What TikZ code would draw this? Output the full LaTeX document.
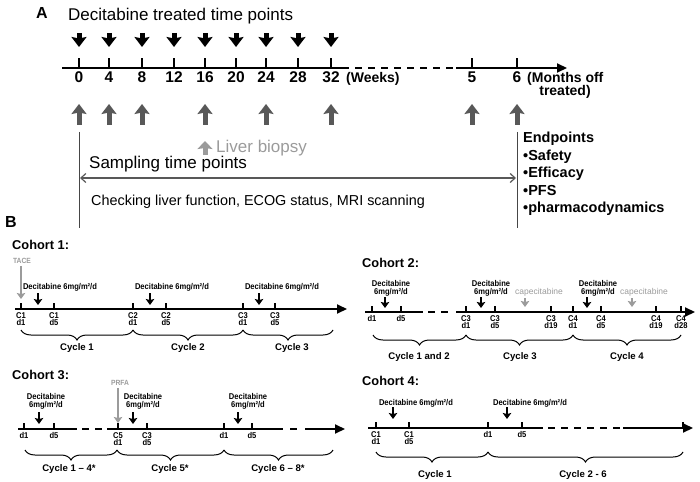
\documentclass[tikz,border=0pt]{standalone}
\usepackage{fontspec}
\setmainfont{Liberation Sans}
\newfontfamily\narrowfont[FakeStretch=0.9]{Liberation Sans}
\usepackage{xcolor}
\usetikzlibrary{arrows.meta}
\usetikzlibrary{decorations.pathreplacing, math}
\definecolor{qdark}{RGB}{88,88,88}
\definecolor{qlight}{RGB}{155,155,155}
\definecolor{qline}{RGB}{70,70,70}

\tikzset{
  bigdown/.style={line width=5pt, -{Stealth[width=15pt,length=10pt,inset=1.5pt]}},
  bigup/.style={bigdown, color=qdark},
  smalldown/.style={line width=2.5pt, -{Stealth[width=8.5pt,length=6pt,inset=1pt]}},
  timeline/.style={line width=2pt},
  tlarrow/.style={line width=2pt, -{Triangle[width=9pt,length=10pt]}},
  gapline/.style={line width=2pt, dash pattern=on 7pt off 6pt},
  tickmark/.style={line width=1.5pt},
  cyclebrace/.style={decorate, decoration={brace, mirror, amplitude=10pt}, line width=1pt},
  weeknum/.style={font=\bfseries\fontsize{15.5}{16}\selectfont, inner sep=0pt, anchor=base},
  daylabel/.style={font=\narrowfont\bfseries\fontsize{8.4}{7}\selectfont, align=center, anchor=north, inner sep=0pt},
  druglabel/.style={font=\narrowfont\bfseries\fontsize{8.4}{8.2}\selectfont, align=center, inner sep=0pt},
  caplabel/.style={font=\fontsize{8.5}{9}\selectfont, text=qlight, inner sep=0pt},
  cyclelabel/.style={font=\bfseries\fontsize{9.6}{10}\selectfont, inner sep=0pt},
  cohortlabel/.style={font=\bfseries\fontsize{12.8}{14}\selectfont, anchor=west, inner sep=0pt},
}

\begin{document}
\begin{tikzpicture}[x=1pt, y=-1pt]
\useasboundingbox (0,0) rectangle (700,481);

% panel A
\node[font=\bfseries\fontsize{16}{16}\selectfont, inner sep=0pt] (A) at (42,13) {A};
\node[font=\fontsize{17}{20}\selectfont, anchor=base west, inner sep=0pt] (title) at (68,21) {Decitabine treated time points};

\coordinate (a0) at (62,68);
\coordinate (a1) at (342,68);
\coordinate (a2) at (456,68);
\coordinate (a3) at (567,68);
\draw[timeline] (a0) -- (a1);
\draw[gapline] (a1) -- (a2);
\draw[tlarrow] (a2) -- (a3);

\foreach \x/\w in {79/0,109/4,142/8,174/12,205/16,236/20,266/24,298/28,331/32} {
  \coordinate (wk\w) at (\x,68);
  \draw[tickmark] (wk\w) -- ++(0,-10);
  \node[weeknum] (wn\w) at (\x,83) {\w};
  \coordinate (dt\w) at (\x,33);
  \coordinate (dh\w) at (\x,47);
  \draw[bigdown] (dt\w) -- (dh\w);
}
\foreach \x/\m in {472/5,517/6} {
  \coordinate (mo\m) at (\x,68);
  \draw[tickmark] (mo\m) -- ++(0,-10);
  \node[weeknum] (mn\m) at (\x,83) {\m};
}
\node[font=\bfseries\fontsize{14}{14}\selectfont, anchor=base west, inner sep=0pt] (weeks) at (346,83) {(Weeks)};
\node[font=\bfseries\fontsize{14}{14}\selectfont, anchor=base west, inner sep=0pt] (months) at (527,83) {(Months off};
\node[font=\bfseries\fontsize{14}{14}\selectfont, anchor=base, inner sep=0pt] (treated) at (565,96) {treated)};

% sampling
\foreach \x/\w in {79/0,109/4,142/8,205/16,266/24,331/32,472/m5,517/m6} {
  \coordinate (sb\w) at (\x,125);
  \coordinate (st\w) at (\x,104);
  \draw[bigup] (sb\w) -- (st\w);
}
\coordinate (lbb) at (205,155);
\coordinate (lbt) at (205,141);
\draw[qlight, line width=5pt, -{Stealth[width=15pt,length=8pt,inset=1pt]}] (lbb) -- (lbt);
\node[font=\fontsize{17}{20}\selectfont, text=qlight, anchor=base west, inner sep=0pt] (biopsy) at (216,153) {Liver biopsy};

\coordinate (v0t) at (79,132);
\coordinate (v0b) at (79,228);
\coordinate (v1t) at (517,132);
\coordinate (v1b) at (517,228);
\draw[qline, line width=1pt] (v0t) -- (v0b);
\draw[qline, line width=1pt] (v1t) -- (v1b);

\coordinate (sl) at (80,178);
\coordinate (sr) at (516,178);
\draw[qdark, line width=1.2pt, {Straight Barb[length=5pt,width=9pt]}-{Straight Barb[length=5pt,width=9pt]}] (sl) -- (sr);
\node[font=\fontsize{17}{20}\selectfont, anchor=base west, inner sep=0pt] (sampling) at (89,168) {Sampling time points};
\node[font=\fontsize{14.4}{16}\selectfont, anchor=base west, inner sep=0pt] (checking) at (91,205) {Checking liver function, ECOG status, MRI scanning};

\node[font=\bfseries\fontsize{14.5}{17.5}\selectfont, align=left, anchor=north west, inner sep=0pt] (endpoints) at (523,132)
  {Endpoints\\\textbullet Safety\\\textbullet Efficacy\\\textbullet PFS\\\textbullet pharmacodynamics};

% panel B
\node[font=\bfseries\fontsize{16}{16}\selectfont, inner sep=0pt] (B) at (11,222) {B};

% cohort 1
\node[cohortlabel] (co1) at (12,245) {Cohort 1:};
\node[font=\narrowfont\bfseries\fontsize{7.5}{8}\selectfont, text=qlight, inner sep=0pt] (tace) at (22,261) {TACE};
\coordinate (tacet) at (21,266);
\coordinate (taceh) at (21,299);
\draw[qlight, smalldown] (tacet) -- (taceh);
\coordinate (c1s) at (15,309);
\coordinate (c1e) at (347,309);
\draw[tlarrow] (c1s) -- (c1e);
\foreach \x/\lab [count=\i] in {21/C1\\d1, 54/C1\\d5, 133/C2\\d1, 166/C2\\d5, 243/C3\\d1, 275/C3\\d5} {
  \coordinate (c1t\i) at (\x,309);
  \draw[tickmark] (c1t\i) -- ++(0,-6);
  \node[daylabel] (c1d\i) at (\x,312) {\lab};
}
\foreach \x/\ax [count=\i] in {60/38, 172/150, 282/259} {
  \node[druglabel] (c1g\i) at (\x,287) {Decitabine 6mg/m²/d};
  \coordinate (c1a\i) at (\ax,293);
  \coordinate (c1b\i) at (\ax,305);
  \draw[smalldown] (c1a\i) -- (c1b\i);
}
\foreach \xa/\xb/\xc/\lab [count=\i] in {21/133/77/Cycle 1, 133/243/188/Cycle 2, 243/333/292/Cycle 3} {
  \coordinate (c1l\i) at (\xa,330);
  \coordinate (c1r\i) at (\xb,330);
  \draw[cyclebrace] (c1l\i) -- (c1r\i);
  \node[cyclelabel] (c1c\i) at (\xc,348) {\lab};
}

% cohort 2
\node[cohortlabel] (co2) at (362,263) {Cohort 2:};
\coordinate (c2s) at (365,312);
\coordinate (c2m) at (423,312);
\coordinate (c2n) at (428,312);
\coordinate (c2o) at (452,312);
\coordinate (c2p) at (456,312);
\coordinate (c2e) at (695,312);
\draw[timeline] (c2s) -- (c2m);
\draw[gapline] (c2n) -- (c2o);
\draw[tlarrow] (c2p) -- (c2e);
\foreach \x/\lab [count=\i] in {372/d1, 401/d5, 466/C3\\d1, 495/C3\\d5, 551/C3\\d19, 573/C4\\d1, 601/C4\\d5, 656/C4\\d19, 681/C4\\d28} {
  \coordinate (c2t\i) at (\x,312);
  \draw[tickmark] (c2t\i) -- ++(0,-6);
  \node[daylabel] (c2d\i) at (\x,315) {\lab};
}
\foreach \x/\ax [count=\i] in {391/385, 491/481, 598/587} {
  \node[druglabel] (c2g\i) at (\x,288) {Decitabine\\6mg/m²/d};
  \coordinate (c2a\i) at (\ax,297);
  \coordinate (c2b\i) at (\ax,308);
  \draw[smalldown] (c2a\i) -- (c2b\i);
}
\foreach \x/\ax [count=\i] in {539/525, 644/632} {
  \node[caplabel] (c2k\i) at (\x,292) {capecitabine};
  \coordinate (c2u\i) at (\ax,298);
  \coordinate (c2v\i) at (\ax,307);
  \draw[qlight, smalldown] (c2u\i) -- (c2v\i);
}
\foreach \xa/\xb/\xc/\lab [count=\i] in {373/466/419/Cycle 1 and 2, 466/573/520/Cycle 3, 573/681/627/Cycle 4} {
  \coordinate (c2l\i) at (\xa,335);
  \coordinate (c2r\i) at (\xb,335);
  \draw[cyclebrace] (c2l\i) -- (c2r\i);
  \node[cyclelabel] (c2c\i) at (\xc,357) {\lab};
}

% cohort 3
\node[cohortlabel] (co3) at (12,375) {Cohort 3:};
\node[font=\narrowfont\bfseries\fontsize{7.5}{8}\selectfont, text=qlight, inner sep=0pt] (prfa) at (120,383) {PRFA};
\coordinate (prfat) at (118,388);
\coordinate (prfah) at (118,423);
\draw[qlight, smalldown] (prfat) -- (prfah);
\coordinate (c3s) at (18,429);
\coordinate (c3m) at (77,429);
\coordinate (c3n) at (82,429);
\coordinate (c3o) at (102,429);
\coordinate (c3p) at (107,429);
\coordinate (c3q) at (283,429);
\coordinate (c3r) at (290,429);
\coordinate (c3u) at (300,429);
\coordinate (c3v) at (305,429);
\coordinate (c3e) at (345,429);
\draw[timeline] (c3s) -- (c3m);
\draw[gapline] (c3n) -- (c3o);
\draw[timeline] (c3p) -- (c3q);
\draw[gapline] (c3r) -- (c3u);
\draw[tlarrow] (c3v) -- (c3e);
\foreach \x/\lab [count=\i] in {24/d1, 54/d5, 118/C5\\d1, 147/C3\\d5, 224/d1, 252/d5} {
  \coordinate (c3t\i) at (\x,429);
  \draw[tickmark] (c3t\i) -- ++(0,-6);
  \node[daylabel] (c3d\i) at (\x,432) {\lab};
}
\foreach \x/\ax [count=\i] in {46/39, 143/133, 248/238} {
  \node[druglabel] (c3g\i) at (\x,401) {Decitabine\\6mg/m²/d};
  \coordinate (c3a\i) at (\ax,412);
  \coordinate (c3b\i) at (\ax,424);
  \draw[smalldown] (c3a\i) -- (c3b\i);
}
\foreach \xa/\xb/\xc/\lab [count=\i] in {25/117/69/Cycle 1 – 4*, 117/224/170/Cycle 5*, 224/333/278/Cycle 6 – 8*} {
  \coordinate (c3l\i) at (\xa,450);
  \coordinate (c3r\i) at (\xb,450);
  \draw[cyclebrace] (c3l\i) -- (c3r\i);
  \node[cyclelabel] (c3c\i) at (\xc,469) {\lab};
}

% cohort 4
\node[cohortlabel] (co4) at (362,381) {Cohort 4:};
\coordinate (c4s) at (368,428);
\coordinate (c4m) at (543,428);
\coordinate (c4n) at (548,428);
\coordinate (c4o) at (620,428);
\coordinate (c4p) at (623,428);
\coordinate (c4e) at (693,428);
\draw[timeline] (c4s) -- (c4m);
\draw[gapline] (c4n) -- (c4o);
\draw[tlarrow] (c4p) -- (c4e);
\foreach \x/\lab [count=\i] in {376/C1\\d1, 409/C1\\d5, 488/d1, 522/d5, 683/{}} {
  \coordinate (c4t\i) at (\x,428);
  \draw[tickmark] (c4t\i) -- ++(0,-6);
  \node[daylabel] (c4d\i) at (\x,431) {\lab};
}
\foreach \x/\ax [count=\i] in {416/393, 530/507} {
  \node[druglabel] (c4g\i) at (\x,403) {Decitabine 6mg/m²/d};
  \coordinate (c4a\i) at (\ax,407);
  \coordinate (c4b\i) at (\ax,419);
  \draw[smalldown] (c4a\i) -- (c4b\i);
}
\foreach \xa/\xb/\xc/\lab [count=\i] in {376/488/435/Cycle 1, 488/683/583/Cycle 2 - 6} {
  \coordinate (c4l\i) at (\xa,452);
  \coordinate (c4r\i) at (\xb,452);
  \draw[cyclebrace] (c4l\i) -- (c4r\i);
  \node[cyclelabel] (c4c\i) at (\xc,475) {\lab};
}

\end{tikzpicture}
\end{document}
